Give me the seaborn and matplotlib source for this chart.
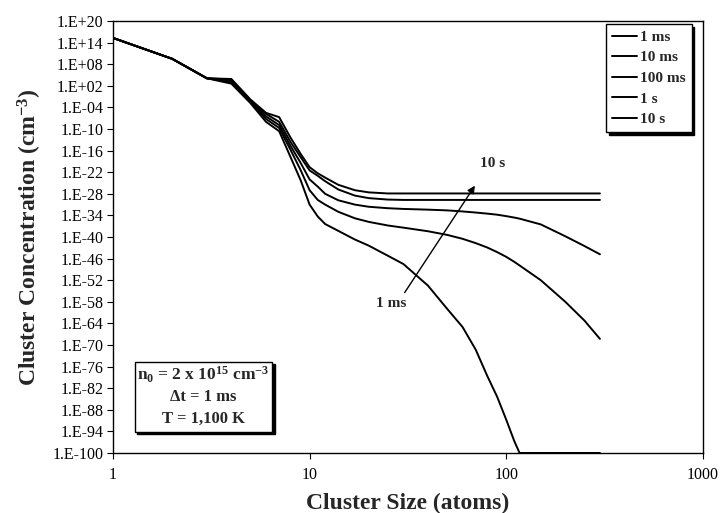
import numpy as np
import pandas as pd
import matplotlib
matplotlib.use("Agg")
import matplotlib.pyplot as plt
import seaborn as sns
from matplotlib.patches import Rectangle

# cluster sizes (atoms) and log10 of concentration (cm^-3)
sizes = [1, 2, 3, 4, 5, 6, 7, 8, 9, 10, 11, 12, 14, 17, 20, 25, 30, 40, 50, 60,
         70, 80, 90, 100, 110, 117, 150, 200, 250, 300]

exp_1ms = [15.3, 9.5, 4.1, 2.6, -2.8, -8.0, -10.6, -17.8, -24.2, -31.0, -34.3, -36.4,
           -38.3, -40.7, -42.4, -45.2, -47.5, -53.5, -59.9, -65.0, -71.3, -78.5,
           -84.4, -90.7, -96.7, -100, -100, -100, -100, -100]
exp_10ms = [15.3, 9.5, 4.1, 3.0, -2.5, -7.2, -9.7, -15.8, -21.4, -27.0, -29.7, -31.0,
            -33.0, -34.8, -35.8, -36.8, -37.4, -38.4, -39.4, -40.5, -41.7, -42.9,
            -44.2, -45.5, -46.9, -47.9, -52.0, -58.0, -63.2, -68.3]
exp_100ms = [15.3, 9.5, 4.1, 3.4, -2.2, -6.5, -8.9, -14.7, -19.4, -24.0, -26.0, -28.0,
             -29.8, -31.0, -31.6, -32.0, -32.2, -32.4, -32.6, -32.9, -33.2, -33.5,
             -33.8, -34.2, -34.6, -34.9, -36.5, -39.8, -42.5, -44.8]
exp_1s = [15.3, 9.5, 4.1, 3.7, -2.0, -5.8, -8.0, -13.6, -17.8, -21.5, -23.0, -24.5,
          -26.8, -28.5, -29.2, -29.6, -29.7, -29.7, -29.7, -29.7, -29.7, -29.7,
          -29.7, -29.7, -29.7, -29.7, -29.7, -29.7, -29.7, -29.7]
exp_10s = [15.3, 9.5, 4.1, 3.9, -1.8, -5.5, -6.7, -12.4, -16.9, -20.6, -22.3, -23.5,
           -25.5, -27.0, -27.6, -27.9, -27.9, -27.9, -27.9, -27.9, -27.9, -27.9,
           -27.9, -27.9, -27.9, -27.9, -27.9, -27.9, -27.9, -27.9]

times = ["1 ms", "10 ms", "100 ms", "1 s", "10 s"]
series = [exp_1ms, exp_10ms, exp_100ms, exp_1s, exp_10s]

y_ticks = 10.0 ** np.arange(20, -101, -6)
x_ticks = [1, 10, 100, 1000]

frames = []
for t, e in zip(times, series):
    frames.append(pd.DataFrame({"size": sizes, "conc": 10.0 ** np.array(e), "time": t}))
df = pd.concat(frames, ignore_index=True)

sns.set_style("ticks")
plt.rcParams['font.family'] = ['Liberation Serif', 'DejaVu Serif']
plt.rcParams['mathtext.fontset'] = 'custom'
plt.rcParams['mathtext.rm'] = 'Liberation Serif:bold'
plt.rcParams['mathtext.it'] = 'Liberation Serif:bold'
plt.rcParams['mathtext.bf'] = 'Liberation Serif:bold'

fig = plt.figure(figsize=(7.2, 5.13), dpi=100)
ax = fig.add_axes([0.157, 0.117, 0.819, 0.842])

sns.lineplot(data=df, x="size", y="conc", hue="time", hue_order=times,
             palette=["black"] * 5, linewidth=1.4, sort=False, ax=ax)

ax.set_xscale("log")
ax.set_yscale("log")
ax.set_xlim(1, 1000)
ax.set_ylim(1e-100, 1e20)
ax.set_xticks(x_ticks)
ax.set_xticklabels([str(v) for v in x_ticks])
ax.set_yticks(y_ticks)
ax.set_yticklabels([f"1.E{int(round(np.log10(v))):+03d}" for v in y_ticks])
ax.minorticks_off()
ax.tick_params(direction="out", length=4, width=0.8, labelsize=11.5, colors="black")
ax.tick_params(axis="x", pad=6)
ax.tick_params(axis="y", pad=3)
for s in ax.spines.values():
    s.set_visible(True)
    s.set_color("black")
    s.set_linewidth(1.0)

ax.set_xlabel("Cluster Size (atoms)", fontsize=17, fontweight="bold", labelpad=7)
ax.set_ylabel("Cluster Concentration (cm$^{-3}$)", fontsize=17, fontweight="bold", labelpad=6)

leg = ax.legend(loc="upper right", bbox_to_anchor=(0.981, 0.993), borderaxespad=0,
                frameon=True, fancybox=False, handlelength=1.6, handletextpad=0.2,
                labelspacing=0.45, borderpad=0.4, fontsize=11,
                shadow={"ox": 2, "oy": -2, "color": "black", "alpha": 1})
leg.get_frame().set_edgecolor("black")
leg.get_frame().set_linewidth(1.0)
leg.get_frame().set_alpha(1)
for txt in leg.get_texts():
    txt.set_fontweight("bold")

# arrow from 1 ms to 10 s
ax.annotate("", xy=(70.6, 10.0 ** -25.1), xytext=(29.9, 10.0 ** -56.1),
            arrowprops=dict(arrowstyle="-|>", color="black", lw=1.0, mutation_scale=11))
ax.text(26.1, 10.0 ** -58.6, "1 ms", ha="center", va="center", fontsize=11, fontweight="bold")
ax.text(85.8, 10.0 ** -19.5, "10 s", ha="center", va="center", fontsize=11, fontweight="bold")

# parameter box with shadow
ax.add_patch(Rectangle((0.041, 0.043), 0.233, 0.162, transform=ax.transAxes,
                       facecolor="black", edgecolor="black", zorder=4))
ax.add_patch(Rectangle((0.037, 0.049), 0.233, 0.162, transform=ax.transAxes,
                       facecolor="white", edgecolor="black", lw=1.0, zorder=5))
ax.text(0.153, 0.181, "n$_0$ = 2 x 10$^{15}$ cm$^{-3}$", transform=ax.transAxes,
        ha="center", va="center", fontsize=12.5, fontweight="bold", zorder=6)
ax.text(0.153, 0.130, "\u0394t = 1 ms", transform=ax.transAxes,
        ha="center", va="center", fontsize=12, fontweight="bold", zorder=6)
ax.text(0.153, 0.080, "T = 1,100 K", transform=ax.transAxes,
        ha="center", va="center", fontsize=12, fontweight="bold", zorder=6)

fig.savefig("out.png", dpi=100)
